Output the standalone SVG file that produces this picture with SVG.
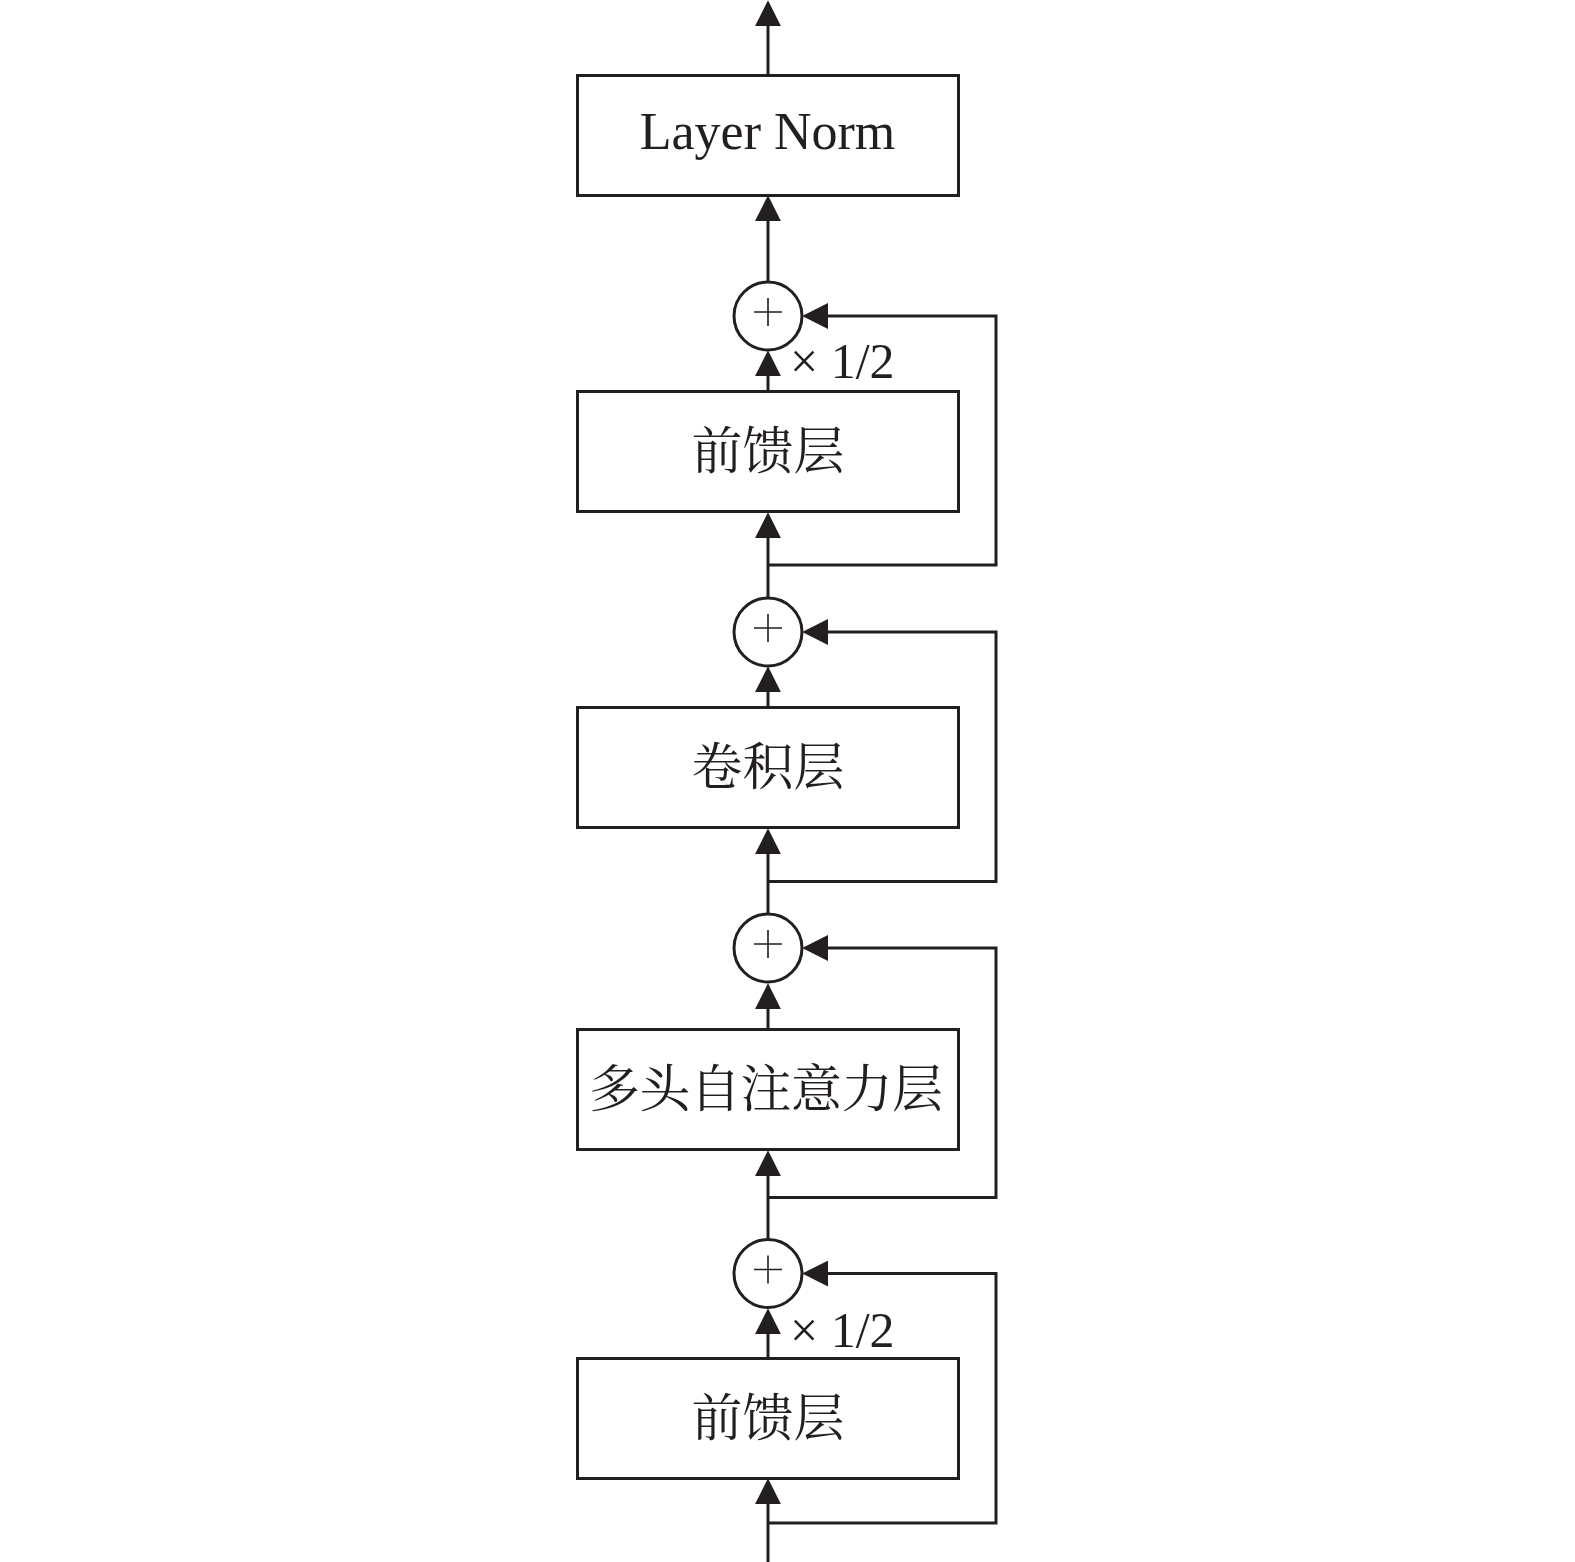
<svg xmlns="http://www.w3.org/2000/svg" width="1575" height="1562" viewBox="0 0 1575 1562">
  <style>
    .box { fill: #ffffff; stroke: #231f20; stroke-width: 3; }
    .sum { fill: #ffffff; stroke: #231f20; stroke-width: 3; }
    .plus { stroke: #231f20; stroke-width: 1.6; fill: none; }
    .conn { fill: none; stroke: #231f20; stroke-width: 3; }
    .arrow { marker-end: url(#ah); }
    .lbl { font-family: "Noto Serif CJK SC", "Noto Sans CJK SC", sans-serif; font-size: 51px; fill: #231f20; text-anchor: middle; }
    .en { font-family: "Liberation Serif", "Times New Roman", serif; font-size: 52px; fill: #231f20; text-anchor: middle; }
    .scale { font-family: "Liberation Serif", "Times New Roman", serif; font-size: 50px; fill: #231f20; }
  </style>
  <defs>
    <marker id="ah" markerUnits="userSpaceOnUse" markerWidth="26" markerHeight="26" viewBox="0 0 24 24" refX="14" refY="12" orient="auto">
      <path d="M0,0 L24,12 L0,24 Z" fill="#231f20"/>
    </marker>
  </defs>

  <g id="connectors">
    <line class="conn arrow" x1="768" y1="75" x2="768" y2="11"/>
    <line class="conn arrow" x1="768" y1="282" x2="768" y2="206"/>
    <line class="conn arrow" x1="768" y1="391.5" x2="768" y2="361"/>
    <line class="conn arrow" x1="768" y1="598" x2="768" y2="523"/>
    <line class="conn arrow" x1="768" y1="707.5" x2="768" y2="677"/>
    <line class="conn arrow" x1="768" y1="914" x2="768" y2="839"/>
    <line class="conn arrow" x1="768" y1="1029.5" x2="768" y2="994"/>
    <line class="conn arrow" x1="768" y1="1239" x2="768" y2="1161"/>
    <line class="conn arrow" x1="768" y1="1358.5" x2="768" y2="1319"/>
    <line class="conn arrow" x1="768" y1="1562" x2="768" y2="1489"/>

    <polyline class="conn arrow" points="768,565 996,565 996,316 813,316"/>
    <polyline class="conn arrow" points="768,881.5 996,881.5 996,632 813,632"/>
    <polyline class="conn arrow" points="768,1197.5 996,1197.5 996,948 813,948"/>
    <polyline class="conn arrow" points="768,1523 996,1523 996,1273.5 813,1273.5"/>

    <text class="scale" x="790" y="378">× 1/2</text>
    <text class="scale" x="790" y="1347">× 1/2</text>
  </g>

  <g id="layernorm">
    <rect class="box" x="577.5" y="75.5" width="381" height="120"/>
    <text class="en" x="767.5" y="149">Layer Norm</text>
  </g>

  <g id="sum1">
    <circle class="sum" cx="768" cy="316" r="34"/>
    <path class="plus" d="M754,312 H782 M768,298 V326"/>
  </g>

  <g id="ffn-top">
    <rect class="box" x="577.5" y="391.5" width="381" height="120"/>
    <text class="lbl" x="768" y="469">前馈层</text>
  </g>

  <g id="sum2">
    <circle class="sum" cx="768" cy="632" r="34"/>
    <path class="plus" d="M754,628 H782 M768,614 V642"/>
  </g>

  <g id="conv">
    <rect class="box" x="577.5" y="707.5" width="381" height="120"/>
    <text class="lbl" x="768" y="785">卷积层</text>
  </g>

  <g id="sum3">
    <circle class="sum" cx="768" cy="948" r="34"/>
    <path class="plus" d="M754,944 H782 M768,930 V958"/>
  </g>

  <g id="mhsa">
    <rect class="box" x="577.5" y="1029.5" width="381" height="120"/>
    <text class="lbl" x="766" y="1107" textLength="354">多头自注意力层</text>
  </g>

  <g id="sum4">
    <circle class="sum" cx="768" cy="1273.5" r="34"/>
    <path class="plus" d="M754,1269.5 H782 M768,1255.5 V1283.5"/>
  </g>

  <g id="ffn-bottom">
    <rect class="box" x="577.5" y="1358.5" width="381" height="120"/>
    <text class="lbl" x="768" y="1436">前馈层</text>
  </g>
</svg>
